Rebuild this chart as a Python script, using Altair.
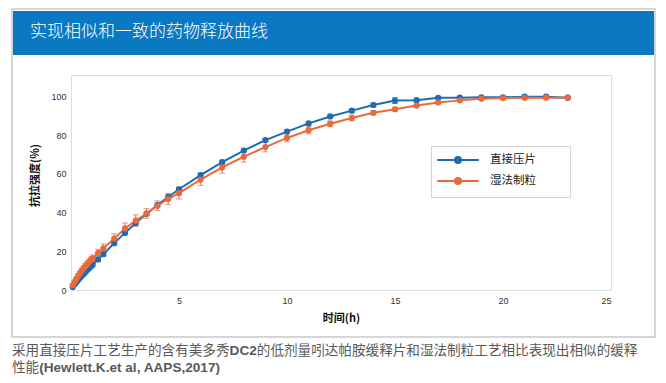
import altair as alt
import pandas as pd

# ---------------- data ----------------
times = [0.083, 0.167, 0.25, 0.333, 0.417, 0.5, 0.583, 0.667, 0.75, 0.833, 0.917, 1.0,
         1.25, 1.5, 2, 2.5, 3, 3.5, 4, 4.5, 5,
         6, 7, 8, 9, 10, 11, 12, 13, 14, 15, 16, 17, 18, 19, 20, 21, 22, 23]

dc_values = [1.5, 2.8, 4.0, 5.2, 6.3, 7.3, 8.3, 9.3, 10.3, 11.2, 12.1, 13.0,
             15.8, 18.5, 24.2, 29.5, 34.6, 39.4, 43.8, 48.0, 52.0,
             59.3, 66.0, 72.0, 77.4, 81.8, 86.0, 89.6, 92.6, 95.5, 97.8, 98.0, 99.2,
             99.3, 99.5, 99.5, 99.8, 99.8, 99.3]
dc_err = [0.3, 0.4, 0.5, 0.5, 0.6, 0.6, 0.7, 0.7, 0.8, 0.8, 0.8, 0.9,
          1.0, 1.0, 1.0, 1.0, 1.0, 1.0, 1.0, 1.0, 1.0,
          1.0, 1.0, 0.8, 0.8, 0.8, 0.8, 0.8, 0.8, 1.0, 1.5, 0.8, 0.6,
          0.5, 0.5, 0.5, 0.5, 0.5, 0.5]

wg_values = [2.5, 4.2, 5.8, 7.3, 8.7, 10.0, 11.2, 12.3, 13.4, 14.4, 15.4, 16.3,
             19.0, 21.5, 26.5, 31.8, 35.8, 39.5, 43.5, 47.0, 50.0,
             57.0, 63.3, 68.8, 73.8, 78.5, 82.5, 85.8, 88.8, 91.5, 93.3, 95.2, 96.8,
             97.9, 98.8, 99.1, 99.2, 99.3, 99.3]
wg_err = [0.5, 0.7, 0.8, 1.0, 1.0, 1.2, 1.3, 1.4, 1.5, 1.6, 1.7, 1.8,
          2.0, 2.3, 2.5, 2.8, 3.0, 2.5, 2.5, 2.8, 3.0,
          3.0, 3.0, 2.8, 2.5, 2.0, 1.8, 1.5, 1.5, 1.2, 1.0, 0.8, 0.6,
          0.5, 0.5, 0.5, 0.5, 0.5, 0.5]

series_names = ["直接压片", "湿法制粒"]
series_colors = ["#1C6CB3", "#EA6A3C"]
x_ticks = [5, 10, 15, 20, 25]
y_ticks = [0, 20, 40, 60, 80, 100]

title_text = "实现相似和一致的药物释放曲线"
x_title = "时间(h)"
y_title = "抗拉强度(%)"
caption_a = "采用直接压片工艺生产的含有美多秀"
caption_b = "DC2"
caption_c = "的低剂量吲达帕胺缓释片和湿法制粒工艺相比表现出相似的缓释"
caption_d = "性能"
caption_e = "(Hewlett.K.et al, AAPS,2017)"

rows = []
for name, vals, errs in [(series_names[0], dc_values, dc_err),
                         (series_names[1], wg_values, wg_err)]:
    for t, v, e in zip(times, vals, errs):
        rows.append({"time": t, "value": v, "lo": v - e, "hi": v + e, "series": name})
df = pd.DataFrame(rows)

CJK = "Noto Sans CJK SC"
LAT = "Arial, Liberation Sans, sans-serif"

W, H = 540, 215

xs = alt.X("time:Q", scale=alt.Scale(domain=[0, 25], nice=False),
           axis=alt.Axis(values=x_ticks, title=x_title, titleFont=CJK, titleFontSize=11,
                         titleFontWeight="bold", titleColor="#111", titlePadding=7,
                         labelPadding=6, zindex=2))
ys = alt.Y("value:Q", scale=alt.Scale(domain=[0, 111], nice=False),
           axis=alt.Axis(values=y_ticks, title=y_title, titleFont=CJK, titleFontSize=11,
                         titleFontWeight="bold", titleColor="#111", titleX=-36, titleY=100,
                         titleAngle=270, titleAlign="center", titleBaseline="middle",
                         labelPadding=5, zindex=2))

sc = alt.Scale(domain=series_names, range=series_colors)

# line with a (stroked, concentric-ring) dot in the middle
legend_path = ("M-2.6,0H2.6"
               "M-0.38,0A0.38,0.38,0,1,0,0.38,0A0.38,0.38,0,1,0,-0.38,0"
               "M-0.22,0A0.22,0.22,0,1,0,0.22,0A0.22,0.22,0,1,0,-0.22,0"
               "M-0.08,0A0.08,0.08,0,1,0,0.08,0A0.08,0.08,0,1,0,-0.08,0")
leg = alt.Legend(orient="none", legendX=372, legendY=70, title=None,
                 symbolType=legend_path, symbolSize=256, symbolStrokeWidth=2,
                 symbolOpacity=1,
                 labelOffset=23, labelFont=CJK, labelFontSize=11.5, labelColor="#222",
                 padding=6, rowPadding=4, zindex=3)

base = alt.Chart(df)
col = alt.Color("series:N", scale=sc, legend=leg)

err_rule = base.mark_rule(strokeWidth=1).encode(
    x=xs, y="lo:Q", y2="hi:Q", color=col)
cap_lo = base.mark_tick(orient="horizontal", size=6, thickness=1).encode(
    x="time:Q", y="lo:Q", color=col)
cap_hi = base.mark_tick(orient="horizontal", size=6, thickness=1).encode(
    x="time:Q", y="hi:Q", color=col)

lines = base.mark_line(strokeWidth=2).encode(
    x=xs, y=ys, color=col)
points = base.mark_point(filled=True, size=38, opacity=1).encode(
    x="time:Q", y="value:Q", color=col)

one = pd.DataFrame({"k": [0]})
dec = alt.Chart(one)
frame = dec.mark_rect(fill="transparent", stroke="#c9c9c9", strokeWidth=1.5).encode(
    x=alt.value(-59), x2=alt.value(584), y=alt.value(-66), y2=alt.value(262))
header = dec.mark_rect(fill="#0B78C2").encode(
    x=alt.value(-58), x2=alt.value(583), y=alt.value(-64), y2=alt.value(-20))
title = dec.mark_text(align="left", baseline="middle", font=CJK, fontSize=17,
                      color="white", fontWeight=300).encode(
    x=alt.value(-41), y=alt.value(-43), text=alt.value(title_text))
legend_box = dec.mark_rect(fill="white", stroke="#d4d4d4", strokeWidth=1).encode(
    x=alt.value(360.5), x2=alt.value(499.5), y=alt.value(71.5), y2=alt.value(122.5))

FS = 13.6
cap_color = "#595959"
L1, L2 = 276, 293
c1 = dec.mark_text(align="left", baseline="middle", font=CJK, fontSize=FS, color=cap_color).encode(
    x=alt.value(-59), y=alt.value(L1), text=alt.value(caption_a))
c2 = dec.mark_text(align="left", baseline="middle", font=LAT, fontSize=FS, fontWeight="bold",
                   color=cap_color).encode(
    x=alt.value(-59 + 16 * FS), y=alt.value(L1), text=alt.value(caption_b))
c3 = dec.mark_text(align="left", baseline="middle", font=CJK, fontSize=FS, color=cap_color).encode(
    x=alt.value(-59 + 16 * FS + 2.0 * FS), y=alt.value(L1), text=alt.value(caption_c))
c4 = dec.mark_text(align="left", baseline="middle", font=CJK, fontSize=FS, color=cap_color).encode(
    x=alt.value(-59), y=alt.value(L2), text=alt.value(caption_d))
c5 = dec.mark_text(align="left", baseline="middle", font=LAT, fontSize=FS, fontWeight="bold",
                   color=cap_color).encode(
    x=alt.value(-59 + 2 * FS), y=alt.value(L2), text=alt.value(caption_e))

chart = alt.layer(
    err_rule, cap_lo, cap_hi, lines, points,
    frame, header, title, legend_box, c1, c2, c3, c4, c5,
).properties(
    width=W, height=H,
    autosize="none",
    padding={"left": 63, "top": 67, "right": 47, "bottom": 85},
).configure_view(
    stroke="#dcdcdc", strokeWidth=1
).configure_axis(
    domain=False, ticks=False, grid=False,
    labelFont=LAT, labelFontSize=9, labelColor="#333"
)

chart.save("out.html", embed_options={"renderer": "svg", "actions": False})
